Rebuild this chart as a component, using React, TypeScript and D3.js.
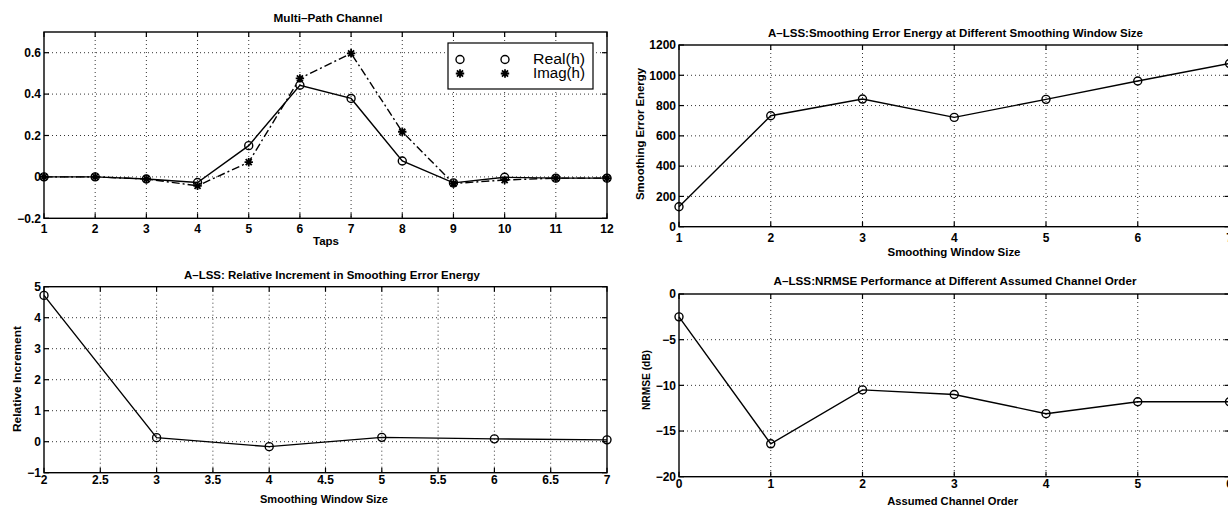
import React from "react";
import * as d3 from "d3";

// ---------- DATA ----------
const P1_TAPS = [1, 2, 3, 4, 5, 6, 7, 8, 9, 10, 11, 12];
const P1_REAL = [0, 0, -0.01, -0.027, 0.151, 0.443, 0.379, 0.077, -0.029, -0.002, -0.006, -0.006];
const P1_IMAG = [0, 0, -0.01, -0.043, 0.071, 0.476, 0.597, 0.218, -0.032, -0.015, -0.006, -0.006];
const P1_XTICKS = [1, 2, 3, 4, 5, 6, 7, 8, 9, 10, 11, 12];
const P1_YTICKS = [-0.2, 0, 0.2, 0.4, 0.6];
const P1_LEGEND = ["Real(h)", "Imag(h)"];

const P2_WINDOW = [1, 2, 3, 4, 5, 6, 7];
const P2_ENERGY = [132, 733, 843, 722, 841, 962, 1078];
const P2_XTICKS = [1, 2, 3, 4, 5, 6, 7];
const P2_YTICKS = [0, 200, 400, 600, 800, 1000, 1200];

const P3_WINDOW = [2, 3, 4, 5, 6, 7];
const P3_INCREMENT = [4.72, 0.13, -0.16, 0.14, 0.09, 0.06];
const P3_XTICKS = [2, 2.5, 3, 3.5, 4, 4.5, 5, 5.5, 6, 6.5, 7];
const P3_YTICKS = [-1, 0, 1, 2, 3, 4, 5];

const P4_ORDER = [0, 1, 2, 3, 4, 5, 6];
const P4_NRMSE = [-2.5, -16.4, -10.5, -11.0, -13.1, -11.8, -11.8];
const P4_XTICKS = [0, 1, 2, 3, 4, 5, 6];
const P4_YTICKS = [-20, -15, -10, -5, 0];

const FONT = "'Liberation Sans', Arial, Helvetica, sans-serif";

const fmt = (v: number) => {
  const s = String(Math.round(v * 1000) / 1000);
  return s.replace("-", "\u2212");
};

type Series = { x: number[]; y: number[]; dash?: string; marker: "o" | "*" };

type PanelProps = {
  left: number; top: number; right: number; bottom: number;
  xDomain: [number, number]; yDomain: [number, number];
  xTicks: number[]; yTicks: number[];
  series: Series[];
  title: string; titleY: number; titleW: number; titleCX?: number;
  xLabel: string; xLabelY: number; xLabelW: number; xLabelCX?: number;
  yLabel?: string; yLabelX?: number; yLabelW?: number; yLabelCY?: number;
  xTickDy: number;
  children?: React.ReactNode;
};

function starPath(s: number) {
  const d = s * 0.72;
  return `M${-s},0L${s},0M0,${-s}L0,${s}M${-d},${-d}L${d},${d}M${-d},${d}L${d},${-d}`;
}

function Marker({ kind, x, y }: { kind: "o" | "*"; x: number; y: number }) {
  if (kind === "o")
    return <circle cx={x} cy={y} r={4} fill="none" stroke="#000" strokeWidth={1.4} />;
  return <path d={starPath(4.2)} transform={`translate(${x},${y})`} stroke="#000" strokeWidth={1.8} fill="none" />;
}

function Panel(p: PanelProps) {
  const x = d3.scaleLinear().domain(p.xDomain).range([p.left, p.right]);
  const y = d3.scaleLinear().domain(p.yDomain).range([p.bottom, p.top]);
  const tl = 5;
  const line = d3.line<[number, number]>().x((d) => x(d[0])).y((d) => y(d[1]));
  const tcx = p.titleCX ?? (p.left + p.right) / 2;
  const xcx = p.xLabelCX ?? (p.left + p.right) / 2;
  const ycy = p.yLabelCY ?? (p.top + p.bottom) / 2;
  return (
    <g>
      {/* grid */}
      {p.xTicks.map((t, i) =>
        x(t) > p.left + 0.5 && x(t) < p.right - 0.5 ? (
          <line key={"gx" + i} x1={x(t)} x2={x(t)} y1={p.top} y2={p.bottom} stroke="#000" strokeWidth={0.8} strokeDasharray="1,3" />
        ) : null
      )}
      {p.yTicks.map((t, i) =>
        y(t) > p.top + 0.5 && y(t) < p.bottom - 0.5 ? (
          <line key={"gy" + i} x1={p.left} x2={p.right} y1={y(t)} y2={y(t)} stroke="#000" strokeWidth={0.8} strokeDasharray="1,3" />
        ) : null
      )}
      {/* ticks */}
      {p.xTicks.map((t, i) => (
        <g key={"tx" + i}>
          <line x1={x(t)} x2={x(t)} y1={p.bottom} y2={p.bottom - tl} stroke="#000" strokeWidth={1.2} />
          <line x1={x(t)} x2={x(t)} y1={p.top} y2={p.top + tl} stroke="#000" strokeWidth={1.2} />
          <text x={x(t)} y={p.bottom + p.xTickDy} textAnchor="middle" fontSize={12} fontWeight="bold" fontFamily={FONT}>
            {fmt(t)}
          </text>
        </g>
      ))}
      {p.yTicks.map((t, i) => (
        <g key={"ty" + i}>
          <line x1={p.left} x2={p.left + tl} y1={y(t)} y2={y(t)} stroke="#000" strokeWidth={1.2} />
          <line x1={p.right} x2={p.right - tl} y1={y(t)} y2={y(t)} stroke="#000" strokeWidth={1.2} />
          <text x={p.left - 3} y={y(t)} dy="0.36em" textAnchor="end" fontSize={12} fontWeight="bold" fontFamily={FONT}>
            {fmt(t)}
          </text>
        </g>
      ))}
      {/* frame */}
      <rect x={p.left} y={p.top} width={p.right - p.left} height={p.bottom - p.top} fill="none" stroke="#000" strokeWidth={1.4} />
      {/* data */}
      {p.series.map((s, si) => {
        const pts = s.x.map((v, i) => [v, s.y[i]] as [number, number]);
        return (
          <g key={"s" + si}>
            <path d={line(pts) ?? ""} fill="none" stroke="#000" strokeWidth={1.4} strokeDasharray={s.dash} />
            {pts.map((d, i) => (
              <Marker key={i} kind={s.marker} x={x(d[0])} y={y(d[1])} />
            ))}
          </g>
        );
      })}
      {/* labels */}
      <text x={tcx} y={p.titleY} textAnchor="middle" fontSize={11} fontWeight="bold" fontFamily={FONT}
        textLength={p.titleW} lengthAdjust="spacingAndGlyphs">{p.title}</text>
      <text x={xcx} y={p.xLabelY} textAnchor="middle" fontSize={11.5} fontWeight="bold" fontFamily={FONT}
        textLength={p.xLabelW} lengthAdjust="spacingAndGlyphs">{p.xLabel}</text>
      {p.yLabel ? (
        <text transform={`translate(${p.yLabelX},${ycy}) rotate(-90)`} dy="0.36em" textAnchor="middle" fontSize={11.5}
          fontWeight="bold" fontFamily={FONT} textLength={p.yLabelW} lengthAdjust="spacingAndGlyphs">{p.yLabel}</text>
      ) : null}
      {p.children}
    </g>
  );
}

export default function App() {
  const lgX = 448, lgY = 43, lgW = 145, lgH = 46;
  return (
    <svg width={1228} height={506} style={{ position: "absolute", left: 0, top: 0, background: "#fff" }}>
      <rect x={0} y={0} width={1228} height={506} fill="#fff" />
      <Panel
        left={44} top={32} right={607} bottom={218.3}
        xDomain={[1, 12]} yDomain={[-0.2, 0.7]}
        xTicks={P1_XTICKS} yTicks={P1_YTICKS}
        series={[
          { x: P1_TAPS, y: P1_REAL, marker: "o" },
          { x: P1_TAPS, y: P1_IMAG, marker: "*", dash: "8,3,2,3" },
        ]}
        title="Multi–Path Channel" titleY={22} titleW={109} titleCX={328}
        xLabel="Taps" xLabelY={245} xLabelW={26} xLabelCX={326}
        xTickDy={15}
      >
        <rect x={lgX} y={lgY} width={lgW} height={lgH} fill="#fff" stroke="#000" strokeWidth={1.2} />
        <Marker kind="o" x={460} y={59.5} />
        <Marker kind="o" x={505} y={59.5} />
        <Marker kind="*" x={460} y={73.5} />
        <Marker kind="*" x={505} y={73.5} />
        <text x={533} y={64} fontSize={14} fontFamily={FONT} textLength={52} lengthAdjust="spacingAndGlyphs">{P1_LEGEND[0]}</text>
        <text x={533} y={78} fontSize={14} fontFamily={FONT} textLength={52} lengthAdjust="spacingAndGlyphs">{P1_LEGEND[1]}</text>
      </Panel>
      <Panel
        left={679} top={45} right={1229.5} bottom={226.7}
        xDomain={[1, 7]} yDomain={[0, 1200]}
        xTicks={P2_XTICKS} yTicks={P2_YTICKS}
        series={[{ x: P2_WINDOW, y: P2_ENERGY, marker: "o" }]}
        title="A–LSS:Smoothing Error Energy at Different Smoothing Window Size" titleY={37} titleW={375} titleCX={955.5}
        xLabel="Smoothing Window Size" xLabelY={256} xLabelW={133} xLabelCX={954}
        yLabel="Smoothing Error Energy" yLabelX={640} yLabelW={132} yLabelCY={134}
        xTickDy={15}
      />
      <Panel
        left={44} top={286.7} right={607} bottom={472.7}
        xDomain={[2, 7]} yDomain={[-1, 5]}
        xTicks={P3_XTICKS} yTicks={P3_YTICKS}
        series={[{ x: P3_WINDOW, y: P3_INCREMENT, marker: "o" }]}
        title="A–LSS: Relative Increment in Smoothing Error Energy" titleY={278.5} titleW={296} titleCX={332}
        xLabel="Smoothing Window Size" xLabelY={503} xLabelW={128} xLabelCX={324}
        yLabel="Relative Increment" yLabelX={17} yLabelW={106} yLabelCY={379}
        xTickDy={11}
      />
      <Panel
        left={679} top={294} right={1229.5} bottom={476.7}
        xDomain={[0, 6]} yDomain={[-20, 0]}
        xTicks={P4_XTICKS} yTicks={P4_YTICKS}
        series={[{ x: P4_ORDER, y: P4_NRMSE, marker: "o" }]}
        title="A–LSS:NRMSE Performance at Different Assumed Channel Order" titleY={285} titleW={363} titleCX={955}
        xLabel="Assumed Channel Order" xLabelY={505} xLabelW={131} xLabelCX={952.7}
        yLabel="NRMSE (dB)" yLabelX={646} yLabelW={60} yLabelCY={380}
        xTickDy={11.5}
      />
    </svg>
  );
}
